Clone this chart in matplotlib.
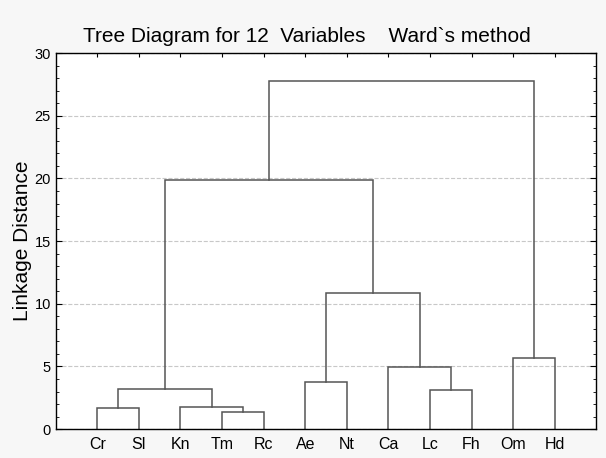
import matplotlib.pyplot as plt
from matplotlib.ticker import MultipleLocator

plt.rcParams['font.family'] = ['Liberation Sans', 'DejaVu Sans']

# leaves in display order
labels = ["Cr", "Sl", "Kn", "Tm", "Rc", "Ae", "Nt", "Ca", "Lc", "Fh", "Om", "Hd"]
# merges: (left cluster, right cluster, linkage distance); new clusters get ids 12, 13, ...
merge_left = [3, 0, 2, 13, 8, 5, 7, 10, 17, 15, 21]
merge_right = [4, 1, 12, 14, 9, 6, 16, 11, 18, 20, 19]
merge_height = [1.33, 1.70, 1.78, 3.17, 3.09, 3.76, 4.96, 5.70, 10.85, 19.86, 27.75]

fig = plt.figure(figsize=(6.06, 4.58), dpi=100, facecolor='#f7f7f7')
ax = fig.add_axes([0.092, 0.063, 0.892, 0.821])
ax.set_facecolor('white')

# x position and height of every cluster
xpos = {i: i + 1 for i in range(len(labels))}
ypos = {i: 0.0 for i in range(len(labels))}
for k, (a, b, h) in enumerate(zip(merge_left, merge_right, merge_height)):
    cid = len(labels) + k
    ax.plot([xpos[a], xpos[a], xpos[b], xpos[b]], [ypos[a], h, h, ypos[b]],
            color='#555555', lw=1.1, solid_joinstyle='miter')
    xpos[cid] = (xpos[a] + xpos[b]) / 2
    ypos[cid] = h

ax.set_xlim(0, 13)
ax.set_ylim(0, 30)
ax.set_xticks(range(1, 13))
ax.set_xticklabels(labels, fontsize=11.5)
ax.yaxis.set_major_locator(MultipleLocator(5))
ax.yaxis.set_minor_locator(MultipleLocator(1))
ax.tick_params(axis='y', which='major', direction='in', length=4, labelsize=10.5,
               right=True, left=True, labelright=False)
ax.tick_params(axis='y', which='minor', direction='in', length=2.5, right=True, left=True)
ax.tick_params(axis='x', direction='in', length=3, top=True, bottom=False, pad=6)
ax.yaxis.grid(True, linestyle='--', color='#c8c8c8', lw=0.8)
ax.set_axisbelow(True)
for s in ax.spines.values():
    s.set_linewidth(1.0)

ax.set_ylabel("Linkage Distance", fontsize=15, labelpad=2)
fig.text(0.507, 0.908, "Tree Diagram for 12  Variables    Ward`s method",
         ha='center', va='baseline', fontsize=15)

plt.savefig("out.png", dpi=100, facecolor=fig.get_facecolor())
